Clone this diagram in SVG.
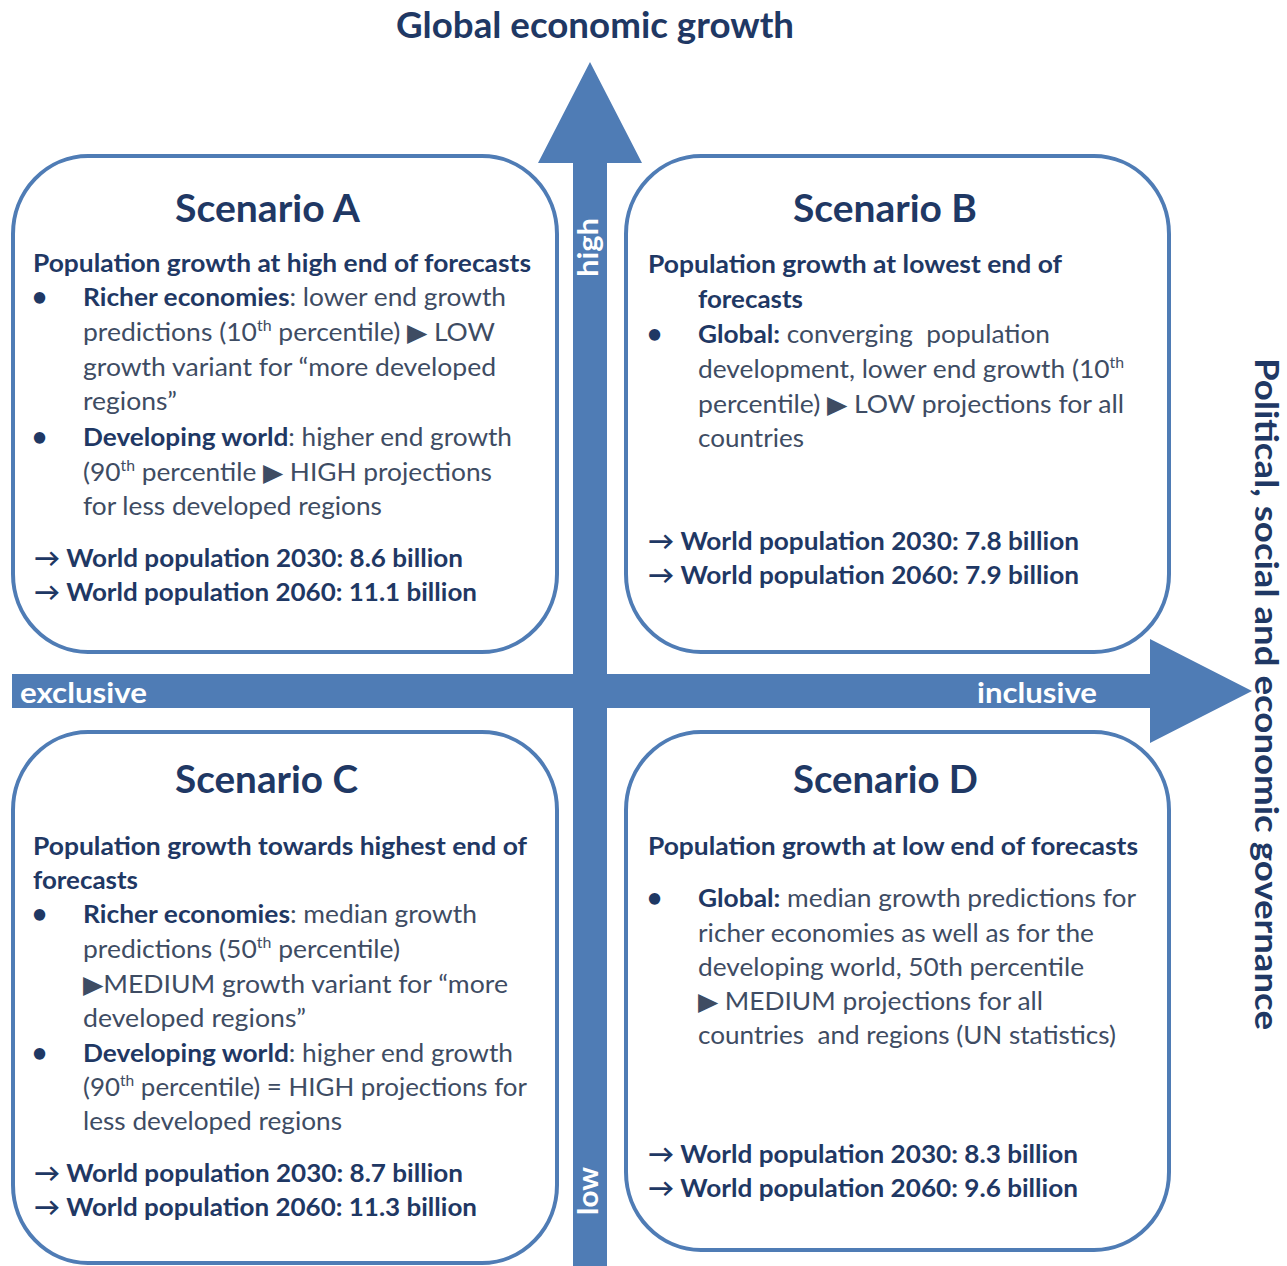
<svg xmlns="http://www.w3.org/2000/svg" width="1287" height="1266" viewBox="0 0 1287 1266">
<style>
  text { font-family: Lato, "Carlito", "Liberation Sans", sans-serif; }
  .box { fill: #ffffff; stroke: #4f7cb5; stroke-width: 4; }
  .arrow { fill: #4f7cb5; }
  .ttl { font-size: 38px; font-weight: 700; fill: #1f3864; }
  .hd { font-size: 25px; font-weight: 700; fill: #1f3864; }
  .tx { font-size: 25px; font-weight: 400; fill: #3e4c63; }
  .b { font-weight: 700; fill: #1f3864; }
  .bul { font-size: 26px; font-weight: 700; fill: #1f3864; }
  .sup { font-size: 15px; }
  .ax { font-size: 28px; font-weight: 700; fill: #ffffff; }
  .axt { font-size: 36px; font-weight: 700; fill: #1f3864; }
  .axr { font-size: 33px; font-weight: 700; fill: #1f3864; }
</style>

<g id="connectors">
  <path class="arrow" d="M573,1266 L573,163 L538,163 L590,62 L642,163 L607,163 L607,1266 Z"/>
  <path class="arrow" d="M12,674 L1150,674 L1150,639 L1252,691 L1150,743 L1150,708 L12,708 Z"/>
  <text class="ax" x="598" y="277" textLength="59" lengthAdjust="spacingAndGlyphs" transform="rotate(-90 598 277)">high</text>
  <text class="ax" x="598" y="1215" textLength="48" lengthAdjust="spacingAndGlyphs" transform="rotate(-90 598 1215)">low</text>
  <text class="ax" x="20" y="703" textLength="127" lengthAdjust="spacingAndGlyphs">exclusive</text>
  <text class="ax" x="977" y="703" textLength="120" lengthAdjust="spacingAndGlyphs">inclusive</text>
</g>

<g id="axis-titles">
  <text class="axt" x="396" y="38" textLength="398" lengthAdjust="spacingAndGlyphs">Global economic growth</text>
  <text class="axr" x="1255" y="358" textLength="672" lengthAdjust="spacingAndGlyphs" transform="rotate(90 1255 358)">Political, social and economic governance</text>
</g>

<g id="scenario-a">
  <rect class="box" x="13" y="156" width="544" height="496" rx="75" ry="78"/>
  <text class="ttl" x="175" y="222" textLength="185" lengthAdjust="spacingAndGlyphs">Scenario A</text>
  <text class="hd" x="33" y="272" textLength="498" lengthAdjust="spacingAndGlyphs">Population growth at high end of forecasts</text>
  <text class="bul" x="32" y="306">•</text>
  <text class="tx" x="83" y="306" textLength="423" lengthAdjust="spacingAndGlyphs"><tspan class="b">Richer economies</tspan>: lower end growth</text>
  <text class="tx" x="83" y="341" textLength="412" lengthAdjust="spacingAndGlyphs">predictions (10<tspan class="sup" dy="-10">th</tspan><tspan dy="10"> percentile) ▶ LOW</tspan></text>
  <text class="tx" x="83" y="376" textLength="413" lengthAdjust="spacingAndGlyphs">growth variant for “more developed</text>
  <text class="tx" x="83" y="410" textLength="94" lengthAdjust="spacingAndGlyphs">regions”</text>
  <text class="bul" x="32" y="446">•</text>
  <text class="tx" x="83" y="446" textLength="429" lengthAdjust="spacingAndGlyphs"><tspan class="b">Developing world</tspan>: higher end growth</text>
  <text class="tx" x="83" y="481" textLength="409" lengthAdjust="spacingAndGlyphs">(90<tspan class="sup" dy="-10">th</tspan><tspan dy="10"> percentile ▶ HIGH projections</tspan></text>
  <text class="tx" x="83" y="515" textLength="299" lengthAdjust="spacingAndGlyphs">for less developed regions</text>
  <text class="hd" x="34" y="567" textLength="429" lengthAdjust="spacingAndGlyphs">→ World population 2030: 8.6 billion</text>
  <text class="hd" x="34" y="601" textLength="443" lengthAdjust="spacingAndGlyphs">→ World population 2060: 11.1 billion</text>
</g>

<g id="scenario-b">
  <rect class="box" x="626" y="156" width="543" height="496" rx="75" ry="78"/>
  <text class="ttl" x="793" y="222" textLength="184" lengthAdjust="spacingAndGlyphs">Scenario B</text>
  <text class="hd" x="648" y="273" textLength="414" lengthAdjust="spacingAndGlyphs">Population growth at lowest end of</text>
  <text class="hd" x="698" y="308" textLength="105" lengthAdjust="spacingAndGlyphs">forecasts</text>
  <text class="bul" x="647" y="343">•</text>
  <text class="tx" x="698" y="343" textLength="352" lengthAdjust="spacingAndGlyphs" style="white-space:pre"><tspan class="b">Global:</tspan> converging  population</text>
  <text class="tx" x="698" y="378" textLength="426" lengthAdjust="spacingAndGlyphs">development, lower end growth (10<tspan class="sup" dy="-10">th</tspan></text>
  <text class="tx" x="698" y="413" textLength="426" lengthAdjust="spacingAndGlyphs">percentile) ▶ LOW projections for all</text>
  <text class="tx" x="698" y="447" textLength="106" lengthAdjust="spacingAndGlyphs">countries</text>
  <text class="hd" x="648" y="550" textLength="431" lengthAdjust="spacingAndGlyphs">→ World population 2030: 7.8 billion</text>
  <text class="hd" x="648" y="584" textLength="431" lengthAdjust="spacingAndGlyphs">→ World population 2060: 7.9 billion</text>
</g>

<g id="scenario-c">
  <rect class="box" x="13" y="732" width="544" height="531" rx="75" ry="78"/>
  <text class="ttl" x="175" y="793" textLength="183" lengthAdjust="spacingAndGlyphs">Scenario C</text>
  <text class="hd" x="33" y="855" textLength="494" lengthAdjust="spacingAndGlyphs">Population growth towards highest end of</text>
  <text class="hd" x="33" y="889" textLength="105" lengthAdjust="spacingAndGlyphs">forecasts</text>
  <text class="bul" x="32" y="923">•</text>
  <text class="tx" x="83" y="923" textLength="394" lengthAdjust="spacingAndGlyphs"><tspan class="b">Richer economies</tspan>: median growth</text>
  <text class="tx" x="83" y="958" textLength="317" lengthAdjust="spacingAndGlyphs">predictions (50<tspan class="sup" dy="-10">th</tspan><tspan dy="10"> percentile)</tspan></text>
  <text class="tx" x="83" y="993" textLength="425" lengthAdjust="spacingAndGlyphs">▶MEDIUM growth variant for “more</text>
  <text class="tx" x="83" y="1027" textLength="223" lengthAdjust="spacingAndGlyphs">developed regions”</text>
  <text class="bul" x="32" y="1062">•</text>
  <text class="tx" x="83" y="1062" textLength="430" lengthAdjust="spacingAndGlyphs"><tspan class="b">Developing world</tspan>: higher end growth</text>
  <text class="tx" x="83" y="1096" textLength="444" lengthAdjust="spacingAndGlyphs">(90<tspan class="sup" dy="-10">th</tspan><tspan dy="10"> percentile) = HIGH projections for</tspan></text>
  <text class="tx" x="83" y="1130" textLength="259" lengthAdjust="spacingAndGlyphs">less developed regions</text>
  <text class="hd" x="34" y="1182" textLength="429" lengthAdjust="spacingAndGlyphs">→ World population 2030: 8.7 billion</text>
  <text class="hd" x="34" y="1216" textLength="443" lengthAdjust="spacingAndGlyphs">→ World population 2060: 11.3 billion</text>
</g>

<g id="scenario-d">
  <rect class="box" x="626" y="732" width="543" height="518" rx="75" ry="78"/>
  <text class="ttl" x="793" y="793" textLength="185" lengthAdjust="spacingAndGlyphs">Scenario D</text>
  <text class="hd" x="648" y="855" textLength="490" lengthAdjust="spacingAndGlyphs">Population growth at low end of forecasts</text>
  <text class="bul" x="647" y="907">•</text>
  <text class="tx" x="698" y="907" textLength="438" lengthAdjust="spacingAndGlyphs"><tspan class="b">Global:</tspan> median growth predictions for</text>
  <text class="tx" x="698" y="942" textLength="396" lengthAdjust="spacingAndGlyphs">richer economies as well as for the</text>
  <text class="tx" x="698" y="976" textLength="386" lengthAdjust="spacingAndGlyphs">developing world, 50th percentile</text>
  <text class="tx" x="698" y="1010" textLength="345" lengthAdjust="spacingAndGlyphs">▶ MEDIUM projections for all</text>
  <text class="tx" x="698" y="1044" textLength="418" lengthAdjust="spacingAndGlyphs" style="white-space:pre">countries  and regions (UN statistics)</text>
  <text class="hd" x="648" y="1163" textLength="430" lengthAdjust="spacingAndGlyphs">→ World population 2030: 8.3 billion</text>
  <text class="hd" x="648" y="1197" textLength="430" lengthAdjust="spacingAndGlyphs">→ World population 2060: 9.6 billion</text>
</g>
</svg>
